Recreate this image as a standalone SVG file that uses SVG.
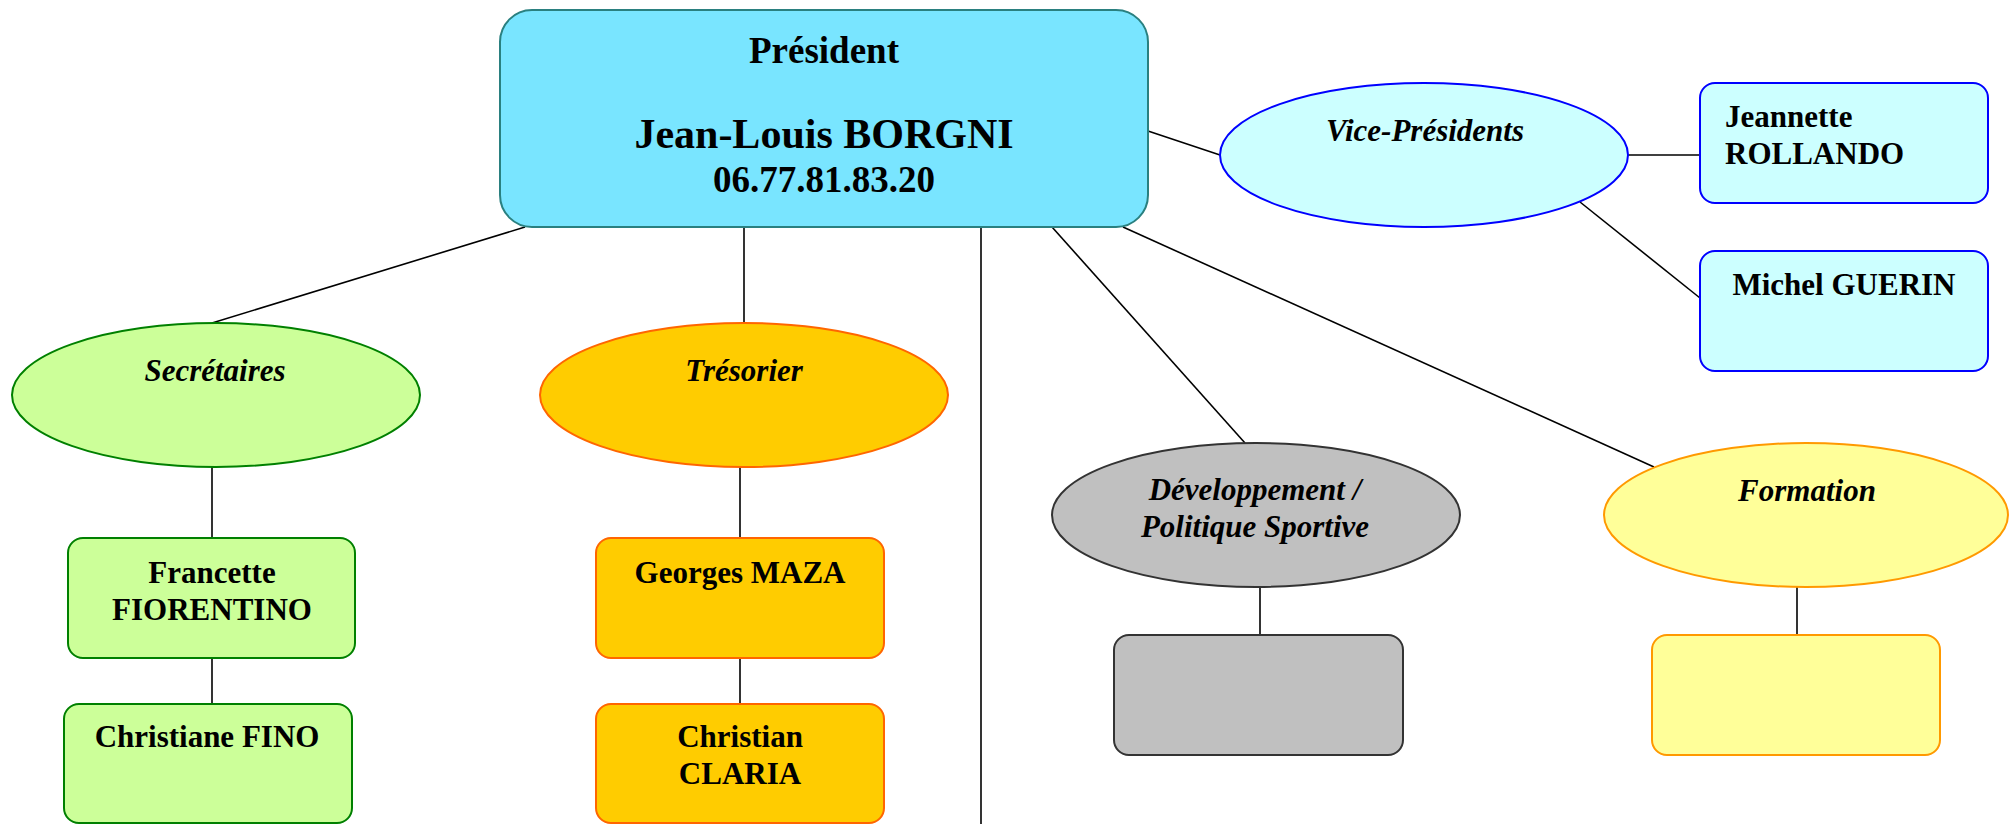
<svg xmlns="http://www.w3.org/2000/svg" width="2010" height="824" viewBox="0 0 2010 824">
<style>
text{font-family:"Liberation Serif","Times New Roman",serif;font-weight:bold;fill:#000}
.t{font-size:31px}
.i{font-size:31px;font-style:italic}
.c{text-anchor:middle}
.ln{stroke:#000;stroke-width:1.6;fill:none}
.pres{fill:#79e5ff;stroke:#2a8080;stroke-width:2}
.vp{fill:#ccffff;stroke:#0000ff;stroke-width:2}
.sec{fill:#ccff99;stroke:#008000;stroke-width:2}
.tre{fill:#ffcc00;stroke:#ff6600;stroke-width:2}
.dev{fill:#c0c0c0;stroke:#333333;stroke-width:2}
.for{fill:#ffff99;stroke:#ff9900;stroke-width:2}
</style>
<rect width="2010" height="824" fill="#fff"/>
<g id="connectors">
<line class="ln" x1="1148" y1="131" x2="1220" y2="155"/>
<line class="ln" x1="1628" y1="155" x2="1700" y2="155"/>
<line class="ln" x1="1580" y1="202" x2="1700" y2="298"/>
<line class="ln" x1="525" y1="227" x2="212" y2="323"/>
<line class="ln" x1="744" y1="227" x2="744" y2="323"/>
<line class="ln" x1="981" y1="227" x2="981" y2="824"/>
<line class="ln" x1="1052" y1="227" x2="1245" y2="443"/>
<line class="ln" x1="1123" y1="227" x2="1654" y2="467"/>
<line class="ln" x1="212" y1="467" x2="212" y2="538"/>
<line class="ln" x1="212" y1="658" x2="212" y2="704"/>
<line class="ln" x1="740" y1="467" x2="740" y2="538"/>
<line class="ln" x1="740" y1="658" x2="740" y2="704"/>
<line class="ln" x1="1260" y1="587" x2="1260" y2="635"/>
<line class="ln" x1="1797" y1="587" x2="1797" y2="635"/>
</g>
<g id="president">
<rect class="pres" x="500" y="10" width="648" height="217" rx="32"/>
<text class="c" x="824" y="63" font-size="37">Président</text>
<text class="c" x="824" y="148" font-size="42">Jean-Louis BORGNI</text>
<text class="c" x="824" y="192" font-size="37">06.77.81.83.20</text>
</g>
<g id="vice-presidents">
<ellipse class="vp" cx="1424" cy="155" rx="204" ry="72"/>
<text class="i c" x="1425" y="141">Vice-Présidents</text>
</g>
<g id="rollando">
<rect class="vp" x="1700" y="83" width="288" height="120" rx="15"/>
<text class="t" x="1725" y="127">Jeannette</text>
<text class="t" x="1725" y="164">ROLLANDO</text>
</g>
<g id="guerin">
<rect class="vp" x="1700" y="251" width="288" height="120" rx="15"/>
<text class="t c" x="1844" y="295">Michel GUERIN</text>
</g>
<g id="secretaires">
<ellipse class="sec" cx="216" cy="395" rx="204" ry="72"/>
<text class="i c" x="215" y="381">Secrétaires</text>
</g>
<g id="fiorentino">
<rect class="sec" x="68" y="538" width="287" height="120" rx="15"/>
<text class="t c" x="212" y="583">Francette</text>
<text class="t c" x="212" y="620">FIORENTINO</text>
</g>
<g id="fino">
<rect class="sec" x="64" y="704" width="288" height="119" rx="15"/>
<text class="t c" x="207" y="747">Christiane FINO</text>
</g>
<g id="tresorier">
<ellipse class="tre" cx="744" cy="395" rx="204" ry="72"/>
<text class="i c" x="744" y="381">Trésorier</text>
</g>
<g id="maza">
<rect class="tre" x="596" y="538" width="288" height="120" rx="15"/>
<text class="t c" x="740" y="583">Georges MAZA</text>
</g>
<g id="claria">
<rect class="tre" x="596" y="704" width="288" height="119" rx="15"/>
<text class="t c" x="740" y="747">Christian</text>
<text class="t c" x="740" y="784">CLARIA</text>
</g>
<g id="developpement">
<ellipse class="dev" cx="1256" cy="515" rx="204" ry="72"/>
<text class="i c" x="1255" y="500">Développement /</text>
<text class="i c" x="1255" y="537">Politique Sportive</text>
</g>
<g id="developpement-box">
<rect class="dev" x="1114" y="635" width="289" height="120" rx="15"/>
</g>
<g id="formation">
<ellipse class="for" cx="1806" cy="515" rx="202" ry="72"/>
<text class="i c" x="1807" y="501">Formation</text>
</g>
<g id="formation-box">
<rect class="for" x="1652" y="635" width="288" height="120" rx="15"/>
</g>
</svg>
